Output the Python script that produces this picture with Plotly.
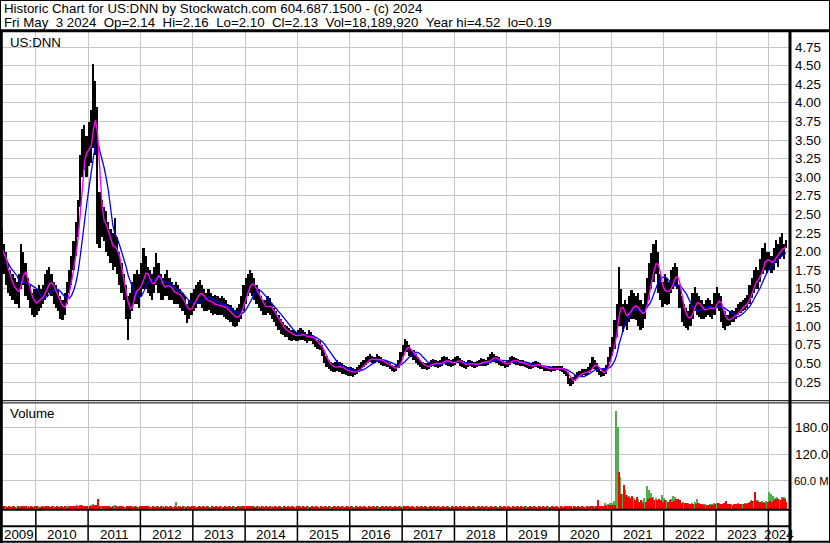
import pandas as pd
import plotly.graph_objects as go

# ---------------- data (semi-monthly periods) ----------------
hi_2009 = [2.30,2.10,2.00,1.85,1.75,1.70,1.65,1.60,1.70,2.10,2.00,1.85,1.65,1.55,1.45,1.50]
lo_2009 = [1.80,1.70,1.55,1.45,1.40,1.35,1.30,1.30,1.25,1.50,1.55,1.40,1.35,1.25,1.15,1.12]
hi_2010 = [1.50,1.55,1.50,1.55,1.70,1.75,1.80,1.70,1.60,1.55,1.50,1.40,1.35,1.45,1.60,1.75,1.95,2.15,2.40,2.70,3.30,3.65,3.70,3.55]
lo_2010 = [1.15,1.20,1.25,1.30,1.35,1.40,1.45,1.40,1.30,1.25,1.20,1.10,1.08,1.15,1.30,1.45,1.55,1.75,1.95,2.20,2.60,3.00,3.10,3.00]
hi_2011 = [3.75,3.90,4.52,4.30,3.95,2.80,2.70,2.60,2.55,2.40,2.30,2.25,2.45,2.20,2.00,1.85,1.70,1.55,1.40,1.45,1.60,1.70,1.75,1.70]
lo_2011 = [3.15,3.20,3.40,3.30,2.10,2.05,2.20,2.15,2.00,1.95,1.85,1.75,1.80,1.70,1.55,1.45,1.35,1.10,0.81,1.10,1.20,1.30,1.30,1.25]
hi_2012 = [1.85,2.05,1.95,1.80,1.75,1.70,1.80,1.98,1.85,1.70,1.65,1.70,1.75,1.65,1.60,1.55,1.60,1.55,1.50,1.45,1.40,1.30,1.35,1.45]
lo_2012 = [1.40,1.50,1.50,1.45,1.40,1.35,1.45,1.55,1.45,1.35,1.35,1.40,1.40,1.35,1.35,1.30,1.30,1.30,1.25,1.20,1.15,1.04,1.10,1.15]
hi_2013 = [1.50,1.55,1.60,1.62,1.55,1.50,1.45,1.50,1.45,1.40,1.42,1.40,1.38,1.40,1.38,1.35,1.30,1.28,1.25,1.22,1.25,1.30,1.40,1.55]
lo_2013 = [1.20,1.25,1.30,1.30,1.25,1.20,1.20,1.22,1.18,1.15,1.17,1.15,1.15,1.15,1.12,1.10,1.08,1.05,1.00,0.99,1.00,1.05,1.10,1.20]
hi_2014 = [1.65,1.70,1.75,1.72,1.65,1.55,1.50,1.40,1.35,1.35,1.40,1.38,1.30,1.25,1.20,1.15,1.10,1.05,1.02,1.00,0.98,0.95,0.95,0.92]
lo_2014 = [1.30,1.40,1.45,1.40,1.35,1.30,1.25,1.20,1.15,1.15,1.18,1.15,1.10,1.05,1.00,0.95,0.90,0.88,0.85,0.85,0.82,0.80,0.82,0.80]
hi_2015 = [0.95,0.98,0.95,0.92,0.90,0.95,0.92,0.88,0.85,0.82,0.80,0.75,0.68,0.60,0.55,0.52,0.50,0.52,0.55,0.52,0.50,0.48,0.46,0.45]
lo_2015 = [0.80,0.82,0.82,0.80,0.78,0.80,0.80,0.76,0.72,0.70,0.68,0.60,0.50,0.45,0.42,0.40,0.38,0.38,0.40,0.38,0.36,0.36,0.34,0.33]
hi_2016 = [0.45,0.44,0.42,0.45,0.48,0.52,0.55,0.58,0.60,0.62,0.60,0.58,0.62,0.60,0.58,0.55,0.55,0.53,0.50,0.48,0.47,0.48,0.55,0.65]
lo_2016 = [0.33,0.32,0.34,0.36,0.38,0.40,0.45,0.48,0.50,0.52,0.50,0.50,0.52,0.50,0.48,0.47,0.46,0.45,0.42,0.40,0.38,0.40,0.44,0.50]
hi_2017 = [0.75,0.83,0.80,0.75,0.70,0.68,0.62,0.58,0.55,0.52,0.50,0.50,0.52,0.55,0.56,0.55,0.53,0.55,0.58,0.60,0.58,0.56,0.55,0.56]
lo_2017 = [0.58,0.65,0.65,0.60,0.58,0.55,0.50,0.48,0.45,0.43,0.42,0.41,0.42,0.45,0.46,0.45,0.44,0.45,0.47,0.50,0.48,0.47,0.45,0.46]
hi_2018 = [0.58,0.60,0.57,0.55,0.53,0.52,0.54,0.55,0.53,0.52,0.53,0.55,0.57,0.56,0.55,0.58,0.62,0.65,0.63,0.60,0.58,0.55,0.55,0.52]
lo_2018 = [0.48,0.50,0.47,0.45,0.44,0.43,0.45,0.46,0.45,0.44,0.45,0.46,0.47,0.46,0.46,0.48,0.50,0.52,0.52,0.50,0.48,0.47,0.46,0.44]
hi_2019 = [0.55,0.58,0.60,0.58,0.57,0.56,0.55,0.54,0.52,0.52,0.50,0.50,0.52,0.53,0.52,0.50,0.48,0.47,0.46,0.46,0.45,0.46,0.46,0.47]
lo_2019 = [0.45,0.48,0.50,0.49,0.48,0.48,0.47,0.46,0.45,0.44,0.43,0.42,0.44,0.45,0.44,0.43,0.42,0.40,0.40,0.40,0.39,0.40,0.40,0.41]
hi_2020 = [0.47,0.46,0.44,0.42,0.38,0.30,0.32,0.35,0.38,0.40,0.42,0.43,0.42,0.45,0.50,0.58,0.55,0.50,0.45,0.40,0.42,0.48,0.58,0.72]
lo_2020 = [0.40,0.38,0.36,0.33,0.22,0.19,0.22,0.26,0.30,0.32,0.33,0.34,0.33,0.34,0.38,0.42,0.42,0.38,0.35,0.32,0.33,0.36,0.42,0.52]
hi_2021 = [0.85,1.08,1.30,1.80,1.50,1.30,1.35,1.30,1.40,1.49,1.45,1.40,1.45,1.35,1.30,1.45,1.65,1.85,1.98,2.10,2.16,2.00,1.70,1.60]
lo_2021 = [0.60,0.70,0.85,1.00,1.00,0.92,1.00,0.95,1.05,1.10,1.10,1.08,1.00,0.95,0.98,1.10,1.25,1.35,1.50,1.60,1.70,1.45,1.35,1.26]
hi_2022 = [1.70,1.65,1.60,1.75,1.80,1.85,1.80,1.55,1.40,1.30,1.25,1.20,1.30,1.45,1.53,1.45,1.40,1.35,1.30,1.35,1.38,1.35,1.30,1.45]
lo_2022 = [1.30,1.28,1.30,1.45,1.50,1.55,1.50,1.25,1.05,1.00,0.98,0.95,1.00,1.10,1.20,1.15,1.12,1.10,1.10,1.12,1.15,1.12,1.10,1.15]
hi_2023 = [1.53,1.45,1.40,1.25,1.20,1.15,1.20,1.22,1.20,1.25,1.30,1.32,1.35,1.38,1.42,1.55,1.65,1.76,1.80,1.75,1.90,2.05,2.12,2.00]
lo_2023 = [1.25,1.20,1.05,0.98,0.95,1.00,1.02,1.05,1.05,1.10,1.15,1.18,1.20,1.22,1.25,1.30,1.38,1.45,1.50,1.50,1.60,1.70,1.75,1.72]
hi_2024 = [2.00,1.95,2.05,2.16,2.10,2.20,2.25,2.10,2.16]
lo_2024 = [1.75,1.72,1.76,1.85,1.80,1.90,1.95,1.90,2.05]

# volume in millions: up-day (green) and down-day (red) maxima per period
vup_2009 = [1,0.5,2,0.5,1,0.5,1.5,0.5,2,2,1,0.5,1,0.5,1,0.5]
vdn_2009 = [1.5,1,0.5,1.5,0.5,1,0.5,1,0.5,1,1.5,1,0.5,1,0.5,1]
vup_2010 = [0.5,1,0.5,1,1.5,0.5,1,0.5,1,0.5,1,0.5,1,0.5,1.5,1,2,1.5,3,4,5,4,3,2]
vdn_2010 = [1,0.5,1,0.5,1,1,0.5,1,0.5,1,0.5,1,0.5,1,0.5,1.5,1,2,2,3,4,3,2,3]
vup_2011 = [3,5,6,4,5,2,2,1,1.5,1,1,0.5,4,1,1,0.5,1,0.5,2,1,1,0.5,1,0.5]
vdn_2011 = [2,3,4,5,18,3,2,1.5,1,1,0.5,1,1,0.5,1,1,0.5,1,1.5,1,0.5,1,0.5,1]
vup_2012 = [1,1.5,1,0.5,1,0.5,1,0.5,1,0.5,1,0.5,1,0.5,1,0.5,12,0.5,1,0.5,1,0.5,1,0.5]
vdn_2012 = [1.5,2.5,2.5,1,0.5,1,0.5,1,0.5,1,0.5,1,0.5,1,0.5,1,0.5,1,0.5,1,0.5,1,0.5,1]
vup_2013 = [0.5,1,0.5,1,0.5,1,0.5,1,0.5,1,0.5,1,0.5,1,0.5,1,0.5,1,0.5,1,0.5,1,1.5,1.5]
vdn_2013 = [1,0.5,1,0.5,1,0.5,1,0.5,1,0.5,1,0.5,1,0.5,1,0.5,1,0.5,1,0.5,1,0.5,1,1]
vup_2014 = [1.5,2.5,1,0.5,1,0.5,1,0.5,1,0.5,1,0.5,1,0.5,1,0.5,1,0.5,1,0.5,1,0.5,1,0.5]
vdn_2014 = [1,1.5,1.5,1,0.5,1,0.5,1,0.5,1,0.5,1,0.5,1,0.5,1,0.5,1,0.5,1,0.5,1,0.5,1]
vup_2015 = [0.5,1,0.5,1,0.5,1,0.5,1,0.5,1,0.5,1,0.5,1,0.5,1,0.5,1,0.5,1,0.5,1,0.5,1]
vdn_2015 = [1,0.5,1,0.5,1,0.5,1,0.5,1,0.5,1,0.5,1,0.5,1,0.5,1,0.5,1,0.5,1,0.5,1,0.5]
vup_2016 = [0.5,1,0.5,1,0.5,1,0.5,1,0.5,1,0.5,1,0.5,1,0.5,1,0.5,1,0.5,1,0.5,1,0.5,1.5]
vdn_2016 = [1,0.5,1,0.5,1,0.5,1,0.5,1,0.5,1,0.5,1,0.5,1,0.5,1,0.5,1,0.5,1,0.5,1,0.5]
vup_2017 = [1.5,1,0.5,1,0.5,1,0.5,1,0.5,1,0.5,1,0.5,1,0.5,1,0.5,1,0.5,1,0.5,1,0.5,1]
vdn_2017 = [1,1.5,1,0.5,1,0.5,1,0.5,1,0.5,1,0.5,1,0.5,1,0.5,1,0.5,1,0.5,1,0.5,1,0.5]
vup_2018 = [0.5,1,0.5,1,0.5,1,0.5,1,0.5,1,0.5,1,0.5,1,0.5,1,0.5,1,0.5,1,0.5,1,0.5,1]
vdn_2018 = [1,0.5,1,0.5,1,0.5,1,0.5,1,0.5,1,0.5,1,0.5,1,0.5,1,0.5,1,0.5,1,0.5,1,0.5]
vup_2019 = [0.5,1,0.5,1,0.5,1,0.5,1,0.5,1,0.5,1,0.5,1,0.5,1,0.5,1,0.5,1,0.5,1,0.5,1]
vdn_2019 = [1,0.5,1,0.5,1,0.5,1,0.5,1,0.5,1,0.5,1,0.5,1,0.5,1,0.5,1,0.5,1,0.5,1,0.5]
vup_2020 = [0.5,1,0.5,1.5,1,1.5,0.5,1,0.5,1,0.5,1,0.5,1,2,3,2,1,1,2,3,9,6,8]
vdn_2020 = [1,0.5,1,1,2,1,1,0.5,1,0.5,1,0.5,1,0.5,1,2,2,16,1,2,3,4,4,4]
vup_2021 = [8,14,219,182,68,30,39,27,25,18,20,15,18,12,14,20,48,38,32,22,20,15,14,27]
vdn_2021 = [4,5,0,80,30,50,27,22,20,25,15,22,12,16,10,12,18,20,21,15,16,18,16,12]
vup_2022 = [20,15,12,18,25,22,15,12,10,12,10,8,7,8,12,17,10,7,6,6,5,6,7,9]
vdn_2022 = [15,12,16,12,14,18,17,15,10,8,9,7,6,7,6,8,7,6,5,5,5,5,5,6]
vup_2023 = [10,8,7,6,6,7,6,6,7,5,10,6,7,8,9,10,16,14,16,15,12,14,12,14]
vdn_2023 = [8,7,7,8,14,6,6,5,6,6,7,7,6,7,10,12,14,35,14,12,12,10,10,12]
vup_2024 = [35,30,25,20,22,18,23,22,20]
vdn_2024 = [14,12,15,17,19,16,20,18,12]

years = list(range(2009, 2025))
G = globals()
hi = sum((G[f"hi_{y}"] for y in years), [])
lo = sum((G[f"lo_{y}"] for y in years), [])
vup = sum((G[f"vup_{y}"] for y in years), [])
vdn = sum((G[f"vdn_{y}"] for y in years), [])

starts = pd.date_range("2009-05-01", "2024-05-01", freq="SMS")
ends = starts[1:].append(pd.DatetimeIndex(["2024-05-04"]))
assert len(starts) == len(hi) == len(lo) == len(vup) == len(vdn), (len(starts), len(hi), len(lo), len(vup), len(vdn))
centers = starts + (ends - starts) / 2
spans = [(e - s).total_seconds() * 1000 for s, e in zip(starts, ends)]
bar_w = [0.78 * s for s in spans]
q = (ends - starts) / 4
x_up = starts + q          # green bars in left half of each period
x_dn = starts + 3 * q      # red bars in right half
half_w = [0.5 * s for s in spans]

hi_s = pd.Series(hi)
lo_s = pd.Series(lo)
mid = (hi_s + lo_s) / 2
ma_fast = mid.rolling(3, min_periods=1).mean()
ma_slow = mid.rolling(8, min_periods=1).mean()

price_ticks = [0.25 * k for k in range(1, 20)]
vol_ticks = [60, 120, 180]
vol_labels = ["60.0 M", "120.0", "180.0"]
year_labels = [str(y) for y in years]

# ---------------- layout geometry ----------------
W, H = 830, 543
def PX(x): return x / W
def PY(y): return 1 - y / H

x_start, x_end = "2009-05-10", "2024-05-24"
FONT = "Liberation Sans, Arial, sans-serif"
GRID = "#c6c6c6"

fig = go.Figure()
fig.add_trace(go.Bar(x=centers, y=(hi_s - lo_s), base=lo_s, width=bar_w,
                     marker=dict(color="black", line=dict(width=0)),
                     xaxis="x", yaxis="y", hoverinfo="skip"))
fig.add_trace(go.Scatter(x=centers, y=ma_slow, mode="lines",
                         line=dict(color="#0000ff", width=1.3), xaxis="x", yaxis="y"))
fig.add_trace(go.Scatter(x=centers, y=ma_fast, mode="lines",
                         line=dict(color="#ff00ff", width=1.4), xaxis="x", yaxis="y"))

VB = -4.8
fig.add_trace(go.Bar(x=x_up, y=[v - VB for v in vup], base=VB, width=half_w,
                     marker=dict(color="#4cb04c", line=dict(width=0)),
                     xaxis="x2", yaxis="y2"))
fig.add_trace(go.Bar(x=x_dn, y=[(v - VB) if v > 0 else 0 for v in vdn], base=VB, width=half_w,
                     marker=dict(color="#ff0000", line=dict(width=0)),
                     xaxis="x2", yaxis="y2"))

xdom = [PX(2), PX(789)]
common_x = dict(domain=xdom, type="date", showgrid=True,
                gridcolor=GRID, gridwidth=1, dtick="M12", tick0="2009-01-01",
                showticklabels=False, ticks="", zeroline=False, showline=False, fixedrange=True)

fig.update_layout(
    width=W, height=H, margin=dict(l=0, r=0, t=0, b=0, autoexpand=False),
    paper_bgcolor="white", plot_bgcolor="white", showlegend=False,
    barmode="overlay", bargap=0,
    xaxis=dict(anchor="y", range=[x_start, x_end], **common_x),
    xaxis2=dict(anchor="y2", matches="x", **common_x),
    yaxis=dict(domain=[PY(400.6), PY(32)], range=[0, 4.954], tickvals=price_ticks,
               showgrid=True, gridcolor=GRID, gridwidth=1, showticklabels=False,
               ticks="", zeroline=False, fixedrange=True),
    yaxis2=dict(domain=[PY(509), PY(403)], range=[VB, 237], tickvals=vol_ticks,
                showgrid=True, gridcolor=GRID, gridwidth=1, showticklabels=False,
                ticks="", zeroline=False, fixedrange=True),
)

shapes = []
def pline(x0, y0, x1, y1, w=1, c="black"):
    shapes.append(dict(type="line", xref="paper", yref="paper",
                       x0=PX(x0), y0=PY(y0), x1=PX(x1), y1=PY(y1),
                       line=dict(color=c, width=w)))

# header box
pline(0, 0.5, 830, 0.5, 1)
pline(0.5, 0, 0.5, 31, 1)
pline(829.5, 0, 829.5, 543, 1)
pline(0, 30.8, 830, 30.8, 3)
# frame
pline(1.3, 31, 1.3, 543, 3)
pline(790, 31, 790, 543, 3)
pline(0, 400.7, 830, 400.7, 1)
pline(0, 402.9, 830, 402.9, 1)
pline(0, 509.8, 790, 509.8, 2)
pline(0, 526.3, 790, 526.3, 2)
pline(0, 541.8, 830, 541.8, 2)
# year separators in the date strip
for y in years[1:]:
    shapes.append(dict(type="line", xref="x", yref="paper",
                       x0=f"{y}-01-01", x1=f"{y}-01-01", y0=PY(510), y1=PY(541),
                       line=dict(color="black", width=1.5)))
fig.update_layout(shapes=shapes)

ann = []
def txt(x, y, s, anchor="left", xref="paper", yref="paper", size=13.3):
    ann.append(dict(x=x, y=y, xref=xref, yref=yref, text=s, showarrow=False,
                    xanchor=anchor, yanchor="middle",
                    font=dict(family=FONT, size=size, color="black")))

NB = "\u00a0"
head1 = "Historic Chart for US:DNN by Stockwatch.com 604.687.1500 - (c) 2024"
head2 = NB.join(["Fri", "May", "", "3", "2024", "", "Op=2.14", "", "Hi=2.16", "", "Lo=2.10", "",
                 "Cl=2.13", "", "Vol=18,189,920", "", "Year", "hi=4.52", "", "lo=0.19"])
txt(PX(2), PY(8.5), head1)
txt(PX(2), PY(22), head2)
txt(PX(8), PY(42.5), "US:DNN")
txt(PX(8), PY(413.5), "Volume")

for v in price_ticks:
    txt(PX(792.5), v, f"{v:.2f}", yref="y")
for v, s in zip(vol_ticks, vol_labels):
    if "M" in s:
        txt(PX(792), v, s, yref="y2", size=11.3)
    else:
        txt(PX(792.5), v, s, yref="y2")

# year labels centered in the visible part of each year
lo_t = pd.Timestamp(x_start)
hi_t = pd.Timestamp(x_end)
for y, s in zip(years, year_labels):
    a = max(pd.Timestamp(f"{y}-01-01"), lo_t)
    b = min(pd.Timestamp(f"{y + 1}-01-01"), hi_t)
    c = a + (b - a) / 2
    txt(c, PY(534.5), s, anchor="center", xref="x")

fig.update_layout(annotations=ann)
fig.write_html("out.html", config={"displayModeBar": False},
               post_script="document.body.style.margin='0';document.body.style.overflow='hidden';")
